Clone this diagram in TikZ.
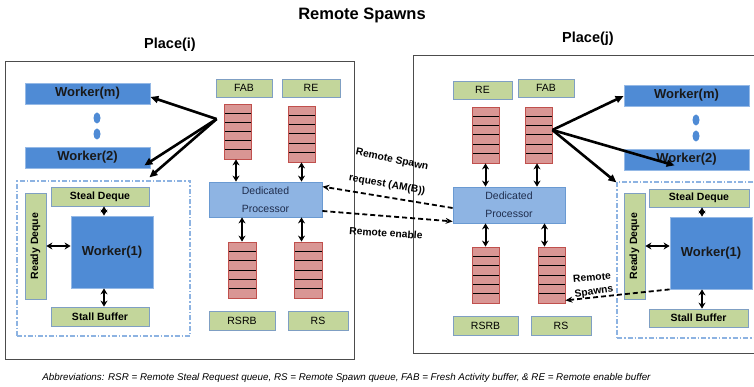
\documentclass[tikz,border=0pt]{standalone}
\usepackage{fontspec}
\setmainfont{Liberation Sans}
\usetikzlibrary{arrows.meta,calc,shapes.geometric}
\definecolor{wblue}{HTML}{4F8BD5}
\definecolor{dpblue}{HTML}{8EB4E3}
\definecolor{dpborder}{HTML}{6A9AD2}
\definecolor{dptext}{HTML}{1F2D4D}
\definecolor{lgreen}{HTML}{C3D69B}
\definecolor{gborder}{HTML}{7F9FC3}
\definecolor{qred}{HTML}{D99694}
\definecolor{qborder}{HTML}{C0504D}
\definecolor{dashblue}{HTML}{8DB3E2}
\begin{document}
\begin{tikzpicture}[x=1pt,y=-1pt,
  box/.style={draw, rectangle, inner sep=0pt, line width=0.8pt},
  wk/.style={box, fill=wblue, draw=wblue!60!white, font=\bfseries\fontsize{13}{14}\selectfont, text=black!90},
  lab/.style={box, fill=lgreen, draw=gborder, font=\fontsize{10.5}{12}\selectfont},
  glab/.style={lab, font=\bfseries\fontsize{10.5}{12}\selectfont},
  queue/.style={box, fill=qred, draw=qborder, path picture={
      \foreach \f in {1,...,5}{\draw[black, line width=1pt]
        ($(path picture bounding box.north west)!\f/6!(path picture bounding box.south west)$) --
        ($(path picture bounding box.north east)!\f/6!(path picture bounding box.south east)$);}}},
  proc/.style={box, fill=dpblue, draw=dpborder, align=center, font=\fontsize{10.5}{18}\selectfont, text=dptext},
  dotn/.style={ellipse, fill=wblue, minimum width=7pt, minimum height=11pt, inner sep=0pt},
  placebox/.style={draw=black!70, line width=1pt, rectangle, inner sep=0pt},
  dashbox/.style={draw=dashblue, line width=1.2pt, dash pattern=on 5pt off 2pt on 1.5pt off 2pt, rectangle, inner sep=0pt},
  ttl/.style={font=\bfseries\fontsize{14.5}{16}\selectfont},
  dbl/.style={{Stealth[length=6pt,width=7pt]}-{Stealth[length=6pt,width=7pt]}, line width=2pt},
  warr/.style={-{Triangle[length=8pt,width=7pt]}, line width=2.6pt},
  dsh/.style={-{Stealth[length=7pt,width=6pt]}, line width=1.8pt, dash pattern=on 5pt off 3pt},
  note/.style={font=\bfseries\fontsize{10.3}{12}\selectfont, inner sep=0pt}
]
\clip (0,0) rectangle (754,387);
\fill[white] (0,0) rectangle (754,387);

\node[font=\bfseries\fontsize{16.5}{18}\selectfont] (title) at (362,15) {Remote Spawns};

% ---------- Place(i) ----------
\node[placebox, minimum width=349pt, minimum height=297pt] (pli) at (179.5,210.5) {};
\node[ttl] (pilab) at (170,45) {Place(i)};
\node[dashbox, minimum width=173pt, minimum height=155pt] (dbl) at (103.5,258.5) {};

\node[wk, minimum width=125pt, minimum height=21pt] (wm) at (87.5,93.5) {Worker(m)};
\node[dotn] (d1) at (97,118) {};
\node[dotn] (d2) at (97,134) {};
\node[wk, minimum width=125pt, minimum height=21pt] (w2) at (87.5,157.5) {Worker(2)};

\node[glab, minimum width=98pt, minimum height=19pt] (sd) at (100,196.5) {Steal Deque};
\node[glab, rotate=90, minimum width=106pt, minimum height=21pt] (rd) at (35.5,246) {Ready Deque};
\node[wk, minimum width=82pt, minimum height=72pt] (w1) at (112,252) {Worker(1)};
\node[glab, minimum width=98pt, minimum height=19pt] (sb) at (100,316.5) {Stall Buffer};

\node[lab, minimum width=56pt, minimum height=18pt] (fab) at (244,88) {FAB};
\node[lab, minimum width=58pt, minimum height=18pt] (re) at (311,88) {RE};
\node[queue, minimum width=27pt, minimum height=55pt] (fabq) at (237.5,131.5) {};
\node[queue, minimum width=27pt, minimum height=56pt] (req) at (301.5,134) {};
\node[proc, minimum width=113pt, minimum height=35pt] (dp) at (265.5,199.5) {Dedicated\\Processor};
\node[queue, minimum width=28pt, minimum height=56pt] (rsrbq) at (242,270) {};
\node[queue, minimum width=28pt, minimum height=56pt] (rsq) at (308,270) {};
\node[lab, minimum width=66pt, minimum height=19pt] (rsrb) at (242,320.5) {RSRB};
\node[lab, minimum width=60pt, minimum height=19pt] (rs) at (318,320.5) {RS};

\draw[dbl] (sd.south -| 104,0) -- (w1.north -| 104,0);
\draw[dbl] (w1.south -| 104,0) -- (sb.north -| 104,0);
\draw[dbl] (rd.south) -- (rd.south -| w1.west);

\draw[dbl] ($(fabq.south)+(-1.5,0)$) -- ($(fabq.south |- dp.north)+(-1.5,0)$);
\draw[dbl] (req.south) -- (req.south |- dp.north);
\draw[dbl] (dp.south -| rsrbq.north) -- (rsrbq.north);
\draw[dbl] (dp.south -| req.south) -- (rsq.north -| req.south);

\coordinate (src) at ($(fabq.west)+(-7,-12.5)$);
\draw[warr] (src) -- ($(wm.east)+(0,3.5)$);
\draw[warr] (src) -- ($(w2.south east)+(-6,-3)$);
\draw[warr] (src) -- ($(dbl.north west)+(133,-3)$);

% ---------- Place(j) ----------
\node[placebox, minimum width=357pt, minimum height=297pt] (plj) at (591.5,204.5) {};
\node[ttl] (pjlab) at (588,39) {Place(j)};
\node[dashbox, minimum width=158pt, minimum height=156pt] (dbr) at (696,260) {};

\node[lab, minimum width=59pt, minimum height=18pt] (re2) at (482.5,90) {RE};
\node[lab, minimum width=56pt, minimum height=18pt] (fab2) at (546,88) {FAB};
\node[queue, minimum width=27pt, minimum height=56pt] (req2) at (485.5,135) {};
\node[queue, minimum width=27pt, minimum height=56pt] (fabq2) at (538.5,135) {};
\node[proc, minimum width=112pt, minimum height=36pt] (dp2) at (509,205) {Dedicated\\Processor};
\node[queue, minimum width=27pt, minimum height=56pt] (rsrbq2) at (485.5,275) {};
\node[queue, minimum width=27pt, minimum height=56pt] (rsq2) at (551.5,275) {};
\node[lab, minimum width=65pt, minimum height=19pt] (rsrb2) at (485.5,325.5) {RSRB};
\node[lab, minimum width=60pt, minimum height=19pt] (rs2) at (561,325.5) {RS};

\node[wk, minimum width=125pt, minimum height=21pt] (wm2) at (686.5,95.5) {Worker(m)};
\node[dotn] (d3) at (696,120) {};
\node[dotn] (d4) at (696,136) {};
\node[wk, minimum width=125pt, minimum height=21pt] (w22) at (686.5,159.5) {Worker(2)};

\node[glab, rotate=90, minimum width=106pt, minimum height=21pt] (rd2) at (634.5,246) {Ready Deque};
\node[glab, minimum width=100pt, minimum height=18pt] (sd2) at (699,198) {Steal Deque};
\node[wk, minimum width=82pt, minimum height=72pt] (w12) at (711,253) {Worker(1)};
\node[glab, minimum width=99pt, minimum height=18pt] (sb2) at (698.5,318) {Stall Buffer};

\draw[dbl] (sd2.south -| 702,0) -- (w12.north -| 702,0);
\draw[dbl] (w12.south -| 702,0) -- (sb2.north -| 702,0);
\draw[dbl] (rd2.south) -- (rd2.south -| w12.west);

\draw[dbl] (req2.south) -- (req2.south |- dp2.north);
\draw[dbl] ($(fabq2.south)+(-1.5,0)$) -- ($(fabq2.south |- dp2.north)+(-1.5,0)$);
\draw[dbl] (dp2.south -| rsrbq2.north) -- (rsrbq2.north);
\draw[dbl] ($(dp2.south -| rsq2.north)+(-7,0)$) -- ($(rsq2.north)+(-7,0)$);

\coordinate (src2) at ($(fabq2.east)+(0,-5)$);
\draw[warr] (src2) -- ($(wm2.west)+(0,0.5)$);
\draw[warr] (src2) -- ($(w22.south west)+(51,-5)$);
\draw[warr] (src2) -- ($(dbr.north west)+(0,1)$);

% ---------- cross-place messages ----------
\draw[dsh] ($(dp2.west)+(0,3)$) -- ($(dp.north east)+(0,5)$);
\draw[dsh] ($(dp.east)+(0,11.5)$) -- ($(dp2.south west)+(0,-2)$);
\draw[dsh] (w12.south west) -- ($(rsq2.south east)+(0,-3)$);

\node[note, rotate=-12] (l1) at (392,160) {Remote Spawn};
\node[note, rotate=-10] (l2) at (387,185) {request (AM(B))};
\node[note, rotate=-4] (l3) at (386,233) {Remote enable};
\node[note, rotate=5] (l4) at (592,277.5) {Remote};
\node[note, rotate=8] (l5) at (594,292) {Spawns};

\node[font=\itshape\fontsize{9.8}{11}\selectfont] (abbr) at (346.5,378) {Abbreviations: RSR = Remote Steal Request queue, RS = Remote Spawn queue, FAB = Fresh Activity buffer, \& RE = Remote enable buffer};
\end{tikzpicture}
\end{document}
